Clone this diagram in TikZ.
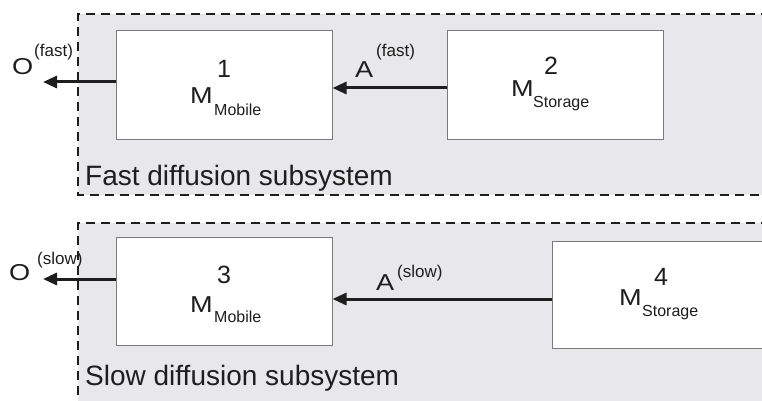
\documentclass[tikz,border=0pt]{standalone}
\usepackage{fontspec}
\setmainfont{Liberation Sans}
\newfontfamily\widefont[FakeStretch=1.18]{Liberation Sans}
\usetikzlibrary{arrows.meta}
\definecolor{panelfill}{HTML}{E8E8EA}
\definecolor{ink}{HTML}{1E1E1E}
\definecolor{boxline}{HTML}{7A7A7A}
\tikzset{
  panel/.style={fill=panelfill, draw=ink, line width=1.3pt, dash pattern=on 9pt off 6pt},
  mbox/.style={draw=boxline, fill=white, line width=1pt, minimum width=216pt, minimum height=108pt, inner sep=0pt},
  arr/.style={draw=ink, line width=3pt, -{Triangle[length=14pt,width=12pt]}},
  lbl/.style={anchor=base west, inner sep=0pt, text=ink},
  big/.style={lbl, font=\widefont\fontsize{23}{23}\selectfont},
  dig/.style={lbl, font=\fontsize{25}{25}\selectfont},
  sub/.style={lbl, font=\fontsize{16}{16}\selectfont},
  sup/.style={lbl, font=\fontsize{17}{17}\selectfont},
  title/.style={lbl, font=\fontsize{28}{28}\selectfont}
}
\begin{document}
\begin{tikzpicture}[x=1pt,y=-1pt]
\useasboundingbox (0,0) rectangle (762,401);
\clip (0,0) rectangle (762,401);
\fill[white] (0,0) rectangle (762,401);
% panels
\path[panel] (800,14) -- (78,14) -- (78,195) -- (800,195);
\path[panel] (800,223) -- (78,223) -- (78,440) -- (800,440);
% boxes
\node[mbox] (m1) at (224,85) {};
\node[mbox] (m2) at (555,85) {};
\node[mbox] (m3) at (224,291) {};
\node[mbox, minimum height=107pt] (m4) at (660,294.5) {};
% box labels
\node[big] (m1M) at (190,104) {M};
\node[dig] (m1n) at (217,78) {1};
\node[sub] (m1s) at (214,116) {Mobile};
\node[big] (m2M) at (511,97) {M};
\node[dig] (m2n) at (544,75) {2};
\node[sub] (m2s) at (533,108) {Storage};
\node[big] (m3M) at (190,312) {M};
\node[dig] (m3n) at (217,283) {3};
\node[sub] (m3s) at (214,322) {Mobile};
\node[big] (m4M) at (619,305) {M};
\node[dig] (m4n) at (654,285) {4};
\node[sub] (m4s) at (642,316) {Storage};
% connectors
\coordinate (o1) at (43,82);
\coordinate (o3) at (43,279);
\draw[arr] ([yshift=-3pt]m2.west) -- ([yshift=-3pt]m1.east);
\draw[arr] ([yshift=3pt]m1.west) -- (o1);
\draw[arr] ([yshift=-4.5pt]m4.west) -- ([yshift=-8pt]m3.east);
\draw[arr] ([yshift=12pt]m3.west) -- (o3);
% connector labels
\node[big] (oF) at (12,75) {O};
\node[sup] (oFs) at (34,57) {(fast)};
\node[big] (aF) at (355,78) {A};
\node[sup] (aFs) at (376,57) {(fast)};
\node[big] (oS) at (9,280) {O};
\node[sup] (oSs) at (37,264) {(slow)};
\node[big] (aS) at (376,290) {A};
\node[sup] (aSs) at (397,277) {(slow)};
% titles
\node[title] (tF) at (85,185) {Fast diffusion subsystem};
\node[title] (tS) at (85,385) {Slow diffusion subsystem};
\end{tikzpicture}
\end{document}
